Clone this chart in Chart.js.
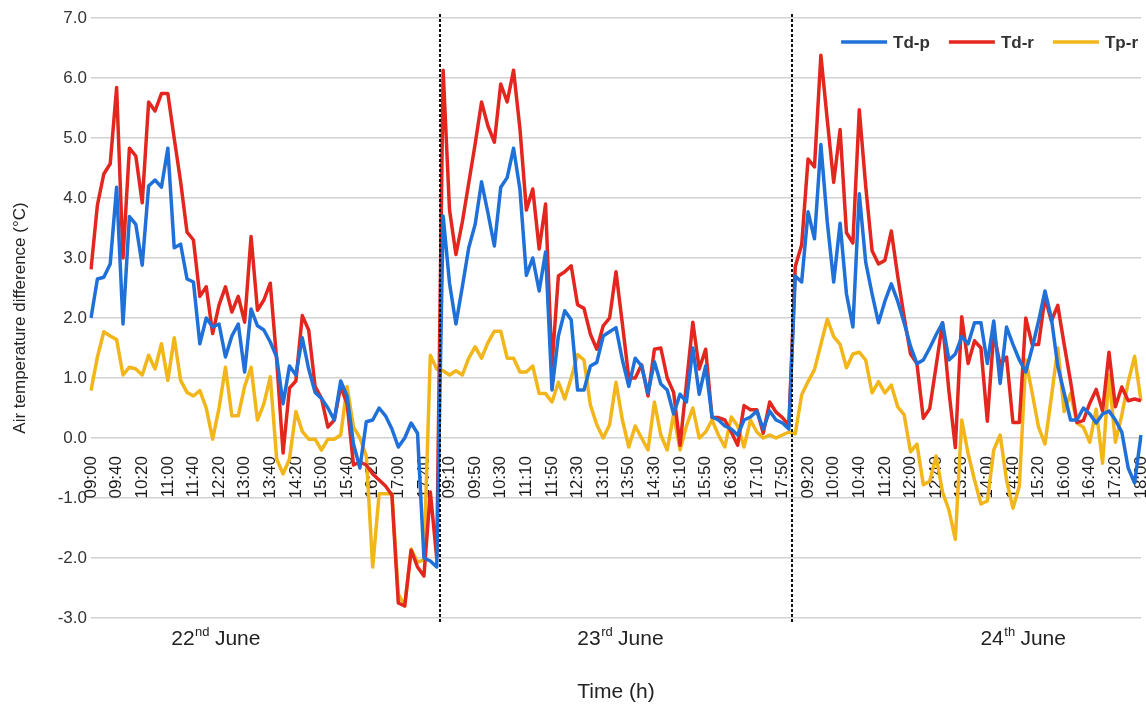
<!DOCTYPE html>
<html>
<head>
<meta charset="utf-8">
<title>Air temperature difference</title>
<script src="https://cdn.jsdelivr.net/npm/chart.js@4.4.1/dist/chart.umd.min.js"></script>
<style>
  html, body { margin: 0; padding: 0; background: #fff; }
  #wrap { width: 1146px; height: 707px; position: relative; }
</style>
</head>
<body>
<div id="wrap"><canvas id="chart"></canvas></div>
<script>
// one reading every 10 minutes, 09:00 to 18:00, for each of the three days
const times = [
  "09:00", "09:10", "09:20", "09:30", "09:40", "09:50",
  "10:00", "10:10", "10:20", "10:30", "10:40", "10:50",
  "11:00", "11:10", "11:20", "11:30", "11:40", "11:50",
  "12:00", "12:10", "12:20", "12:30", "12:40", "12:50",
  "13:00", "13:10", "13:20", "13:30", "13:40", "13:50",
  "14:00", "14:10", "14:20", "14:30", "14:40", "14:50",
  "15:00", "15:10", "15:20", "15:30", "15:40", "15:50",
  "16:00", "16:10", "16:20", "16:30", "16:40", "16:50",
  "17:00", "17:10", "17:20", "17:30", "17:40", "17:50",
  "18:00",
];
const days = [["22", "nd"], ["23", "rd"], ["24", "th"]];

const tdp = [
  2.0, 2.65, 2.68, 2.9, 4.18, 1.9, 3.69, 3.56, 2.88, 4.2, 4.3, 4.18, 4.83, 3.17, 3.23, 2.65, 2.6, 1.57, 2.0, 1.85,
  1.9, 1.35, 1.7, 1.9, 1.1, 2.15, 1.87, 1.8, 1.6, 1.35, 0.57, 1.2, 1.05, 1.67, 1.15, 0.76, 0.66, 0.5, 0.3, 0.95,
  0.7, -0.1, -0.5, 0.27, 0.3, 0.5, 0.37, 0.15, -0.15, 0.0, 0.25, 0.08, -2.0, -2.05, -2.15,
  3.7, 2.58, 1.9, 2.52, 3.17, 3.56, 4.27, 3.75, 3.2, 4.18, 4.34, 4.83, 4.14, 2.71, 3.0, 2.45, 3.1, 0.8, 1.7, 2.12,
  1.97, 0.8, 0.8, 1.2, 1.26, 1.7, 1.77, 1.84, 1.3, 0.86, 1.33, 1.2, 0.75, 1.27, 0.9, 0.8, 0.4, 0.73, 0.6, 1.5,
  0.73, 1.2, 0.35, 0.3, 0.2, 0.15, 0.05, 0.3, 0.35, 0.45, 0.15, 0.45, 0.3, 0.25, 0.15,
  2.7, 2.6, 3.77, 3.32, 4.89, 3.6, 2.6, 3.58, 2.4, 1.85, 4.07, 2.93, 2.4, 1.92, 2.28, 2.57, 2.28, 1.92, 1.53, 1.24,
  1.3, 1.5, 1.72, 1.92, 1.3, 1.4, 1.69, 1.57, 1.92, 1.92, 1.24, 1.95, 0.91, 1.85, 1.56, 1.3, 1.1, 1.5, 1.95, 2.45,
  2.0, 1.2, 0.75, 0.3, 0.3, 0.5, 0.4, 0.25, 0.4, 0.45, 0.3, 0.1, -0.5, -0.75, 0.05,
];

const tdr = [
  2.81, 3.88, 4.4, 4.57, 5.84, 3.0, 4.83, 4.7, 3.92, 5.6, 5.45, 5.74, 5.74, 4.99, 4.27, 3.43, 3.3, 2.36, 2.52, 1.74,
  2.22, 2.52, 2.1, 2.36, 1.93, 3.36, 2.13, 2.3, 2.58, 1.3, -0.25, 0.83, 0.95, 2.04, 1.8, 0.86, 0.66, 0.18, 0.3, 0.86,
  0.57, -0.45, -0.4, -0.45, -0.6, -0.7, -0.8, -0.95, -2.75, -2.8, -1.87, -2.15, -2.3, -0.9, -2.0,
  6.13, 3.8, 3.06, 3.6, 4.25, 4.9, 5.6, 5.2, 4.93, 5.9, 5.6, 6.13, 5.15, 3.8, 4.15, 3.15, 3.9, 1.2, 2.7, 2.77,
  2.87, 2.22, 2.16, 1.73, 1.48, 1.87, 2.0, 2.77, 1.9, 1.0, 1.0, 1.22, 0.7, 1.48, 1.5, 1.0, 0.76, -0.12, 0.9, 1.93,
  1.15, 1.48, 0.34, 0.34, 0.3, 0.1, -0.12, 0.54, 0.47, 0.47, 0.08, 0.6, 0.43, 0.34, 0.21,
  2.86, 3.22, 4.65, 4.52, 6.38, 5.3, 4.26, 5.14, 3.42, 3.25, 5.47, 4.2, 3.12, 2.9, 2.96, 3.45, 2.7, 2.02, 1.4, 1.24,
  0.33, 0.49, 1.2, 1.92, 0.78, -0.16, 2.02, 1.24, 1.62, 1.5, 0.28, 1.75, 1.22, 1.35, 0.26, 0.26, 2.0, 1.56, 1.56, 2.34,
  1.95, 2.21, 1.56, 0.94, 0.26, 0.29, 0.58, 0.81, 0.45, 1.43, 0.52, 0.85, 0.62, 0.65, 0.62,
];

const tpr = [
  0.79, 1.35, 1.77, 1.7, 1.64, 1.05, 1.18, 1.15, 1.05, 1.38, 1.15, 1.57, 0.96, 1.67, 0.96, 0.76, 0.7, 0.79, 0.5, -0.02,
  0.5, 1.18, 0.37, 0.37, 0.86, 1.18, 0.3, 0.57, 1.02, -0.35, -0.6, -0.35, 0.44, 0.11, -0.02, -0.02, -0.2, -0.02, -0.02, 0.05,
  0.86, 0.18, 0.0, -0.3, -2.15, -0.93, -0.93, -0.93, -2.6, -2.8, -1.85, -2.07, -2.03, 1.38, 1.15,
  1.12, 1.05, 1.12, 1.05, 1.33, 1.52, 1.33, 1.59, 1.78, 1.78, 1.33, 1.33, 1.1, 1.1, 1.2, 0.74, 0.74, 0.6, 0.93, 0.65,
  1.0, 1.39, 1.3, 0.55, 0.22, 0.0, 0.22, 0.93, 0.3, -0.15, 0.2, 0.0, -0.2, 0.6, 0.05, -0.2, 0.4, -0.2, 0.2, 0.5,
  0.0, 0.1, 0.3, 0.05, -0.15, 0.35, 0.2, -0.15, 0.3, 0.1, 0.0, 0.05, 0.0, 0.05, 0.1,
  0.07, 0.72, 0.94, 1.14, 1.56, 1.98, 1.69, 1.56, 1.17, 1.4, 1.43, 1.3, 0.75, 0.94, 0.75, 0.88, 0.52, 0.39, -0.23, -0.1,
  -0.78, -0.72, -0.3, -0.9, -1.2, -1.69, 0.3, -0.26, -0.7, -1.1, -1.05, -0.2, 0.05, -0.7, -1.17, -0.8, 1.3, 0.75, 0.18, -0.1,
  0.68, 1.5, 0.44, 0.74, 0.25, 0.18, -0.07, 0.48, -0.42, 1.05, -0.07, 0.38, 0.93, 1.36, 0.62,
];

const labels = [];
for (const d of days) {
  for (const t of times) labels.push(t);
}

const FONT = "'Liberation Sans', Arial, sans-serif";

// dashed day separators, legend inside the plot, day names and x axis title
const dayMarks = {
  id: "dayMarks",
  afterDatasetsDraw(chart) {
    const { ctx, chartArea } = chart;
    const x = chart.scales.x;
    ctx.save();
    ctx.strokeStyle = "#111";
    ctx.lineWidth = 2;
    ctx.setLineDash([3, 2]);
    for (let d = 1; d < days.length; d++) {
      const px = Math.round(x.getPixelForValue(d * times.length - 0.5));
      ctx.beginPath();
      ctx.moveTo(px, chartArea.top - 4);
      ctx.lineTo(px, chartArea.bottom + 4);
      ctx.stroke();
    }
    ctx.restore();
  },
  afterDraw(chart) {
    const { ctx, chartArea } = chart;
    const x = chart.scales.x;
    ctx.save();

    // legend, top right of the plot
    ctx.font = "bold 17px " + FONT;
    const lineW = 46;
    const items = chart.data.datasets.map((ds) => ({
      text: ds.label,
      color: ds.borderColor,
      w: ctx.measureText(ds.label).width,
    }));
    let total = 0;
    items.forEach((it) => (total += lineW + 6 + it.w));
    total += 19 * (items.length - 1);
    let lx = chartArea.right - 3 - total;
    const ly = chartArea.top + 24;
    ctx.textAlign = "left";
    ctx.textBaseline = "middle";
    items.forEach((it) => {
      ctx.strokeStyle = it.color;
      ctx.lineWidth = 3.5;
      ctx.beginPath();
      ctx.moveTo(lx, ly);
      ctx.lineTo(lx + lineW, ly);
      ctx.stroke();
      ctx.fillStyle = "#333";
      ctx.fillText(it.text, lx + lineW + 6, ly + 1);
      lx += lineW + 6 + it.w + 19;
    });

    // day names with superscript ordinals
    const centres = [19.5, 82.7, 145.6];
    ctx.fillStyle = "#222";
    ctx.textBaseline = "alphabetic";
    const big = "21px " + FONT;
    const small = "13px " + FONT;
    days.forEach((d, i) => {
      ctx.font = big;
      const wNum = ctx.measureText(d[0]).width;
      const wRest = ctx.measureText(" June").width;
      ctx.font = small;
      const wSup = ctx.measureText(d[1]).width;
      const left = x.getPixelForValue(centres[i]) - (wNum + wSup + wRest) / 2;
      const base = chartArea.bottom + 27;
      ctx.font = big;
      ctx.fillText(d[0], left, base);
      ctx.font = small;
      ctx.fillText(d[1], left + wNum + 0.5, base - 9);
      ctx.font = big;
      ctx.fillText(" June", left + wNum + wSup, base);
    });

    ctx.font = "21px " + FONT;
    ctx.textAlign = "center";
    ctx.fillText("Time (h)", (chartArea.left + chartArea.right) / 2, chartArea.bottom + 80);
    ctx.restore();
  },
};

const ctx = document.getElementById("chart");
new Chart(ctx, {
  type: "line",
  data: {
    labels: labels,
    datasets: [
      { label: "Td-p", data: tdp, borderColor: "#1f70d8", backgroundColor: "#1f70d8" },
      { label: "Td-r", data: tdr, borderColor: "#e3271f", backgroundColor: "#e3271f" },
      { label: "Tp-r", data: tpr, borderColor: "#f2b61a", backgroundColor: "#f2b61a" },
    ],
  },
  options: {
    responsive: true,
    maintainAspectRatio: false,
    animation: false,
    layout: { padding: { top: 18, right: 5, bottom: 89, left: 0 } },
    elements: {
      line: { borderWidth: 3.5, tension: 0, borderJoinStyle: "round" },
      point: { radius: 0, hoverRadius: 0 },
    },
    scales: {
      x: {
        type: "category",
        position: { y: 0 },
        offset: false,
        afterFit: (scale) => {
          scale.paddingLeft = 0;
          scale.paddingRight = 0;
        },
        grid: { display: false, drawTicks: true, tickLength: 15 },
        border: { display: false },
        ticks: {
          autoSkip: false,
          minRotation: 90,
          maxRotation: 90,
          padding: 3,
          color: "#1a1a1a",
          font: { family: FONT, size: 17 },
          callback: (v, i) => (i % 4 === 0 ? labels[i] : null),
        },
      },
      y: {
        min: -3,
        max: 7,
        afterFit: (scale) => {
          scale.width = 91;
        },
        grid: { color: "#d2d2d2", lineWidth: 1.5, drawTicks: false },
        border: { display: false },
        ticks: {
          stepSize: 1,
          padding: 4,
          color: "#333",
          font: { family: FONT, size: 17 },
          callback: (v) => v.toFixed(1),
        },
        title: {
          display: true,
          text: "Air temperature difference (°C)",
          color: "#222",
          font: { family: FONT, size: 17 },
          padding: { top: 10 },
        },
      },
    },
    plugins: {
      legend: { display: false },
      tooltip: { enabled: false },
    },
  },
  plugins: [dayMarks],
});
</script>
</body>
</html>
